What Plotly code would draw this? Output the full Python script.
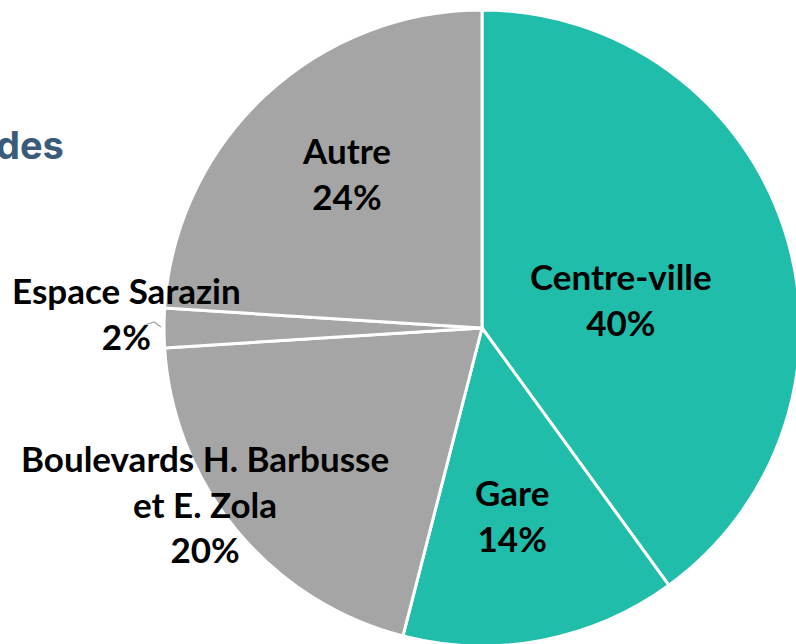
import plotly.graph_objects as go

# figure slightly larger than the 796x644 view so the pie can run off the edges like the reference
W, H = 806, 652

labels = ["Centre-ville", "Gare", "Boulevards H. Barbusse<br>et E. Zola", "Espace Sarazin", "Autre"]
values = [40, 14, 20, 2, 24]
colors = ["#1FBDAA", "#1FBDAA", "#A5A5A5", "#A5A5A5", "#A5A5A5"]
title_text = "des"

# label block centres in on-screen pixels
label_pos = [(621, 299), (512, 515), (205, 503), (127, 313), (346, 173)]

cx, cy, r = 482, 328, 318


def px_x(x):
    return x / W


def px_y(y):
    return 1 - y / H


fig = go.Figure(go.Pie(
    labels=labels,
    values=values,
    sort=False,
    direction="clockwise",
    rotation=0,
    marker=dict(colors=colors, line=dict(color="white", width=3)),
    textinfo="none",
    hoverinfo="label+percent",
    showlegend=False,
    domain=dict(x=[(cx - r) / W, min(1, (cx + r) / W)], y=[max(0, 1 - (cy + r) / H), 1 - (cy - r) / H]),
))

tot = sum(values)
for lab, v, (px, py) in zip(labels, values, label_pos):
    fig.add_annotation(
        x=px_x(px), y=px_y(py), xref="paper", yref="paper",
        text=f"{lab}<br>{round(v / tot * 100)}%",
        showarrow=False, xanchor="center", yanchor="middle", align="center",
        font=dict(family="Lato", size=35, color="black", weight="bold"),
    )

# leader line for the small slice
fig.add_shape(type="path", xref="paper", yref="paper",
              path=f"M {px_x(145)} {px_y(325)} L {px_x(154)} {px_y(322)} L {px_x(161)} {px_y(327)}",
              line=dict(color="#A5A5A5", width=1.2))

fig.add_annotation(
    x=px_x(66), y=px_y(145), xref="paper", yref="paper",
    text=title_text, showarrow=False, xanchor="right", yanchor="middle",
    font=dict(family="Inter", size=38, color="#3B5B7B", weight="bold"),
)

fig.update_layout(
    width=W, height=H,
    margin=dict(l=0, r=0, t=0, b=0),
    paper_bgcolor="white", plot_bgcolor="white",
)

fig.write_html("out.html",
               config={"displayModeBar": False},
               post_script="document.body.style.margin='0';document.body.style.overflow='hidden';")
